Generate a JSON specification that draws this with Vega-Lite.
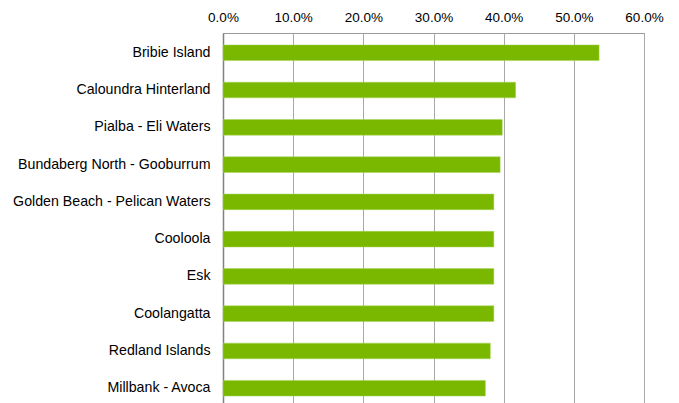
{
  "$schema": "https://vega.github.io/schema/vega-lite/v6.json",
  "autosize": {"type": "none"},
  "padding": {"left": 223, "top": 33, "right": 35, "bottom": 0},
  "width": 421,
  "height": 375,
  "background": "white",
  "config": {
    "view": {"stroke": "#9a9a9a", "strokeWidth": 1},
    "axis": {"labelFont": "Liberation Sans", "labelFontSize": 13.5, "labelColor": "#000000", "labelLimit": 400}
  },
  "data": {
    "values": [
      {"area": "Bribie Island", "value": 0.536},
      {"area": "Caloundra Hinterland", "value": 0.417},
      {"area": "Pialba - Eli Waters", "value": 0.398},
      {"area": "Bundaberg North - Gooburrum", "value": 0.395},
      {"area": "Golden Beach - Pelican Waters", "value": 0.386},
      {"area": "Cooloola", "value": 0.386},
      {"area": "Esk", "value": 0.386},
      {"area": "Coolangatta", "value": 0.386},
      {"area": "Redland Islands", "value": 0.381},
      {"area": "Millbank - Avoca", "value": 0.374}
    ]
  },
  "mark": {"type": "bar", "color": "#7ab800", "stroke": "#a6d45a", "strokeWidth": 0.5},
  "encoding": {
    "y": {
      "field": "area", "type": "nominal", "sort": null,
      "scale": {"paddingInner": 0.58, "paddingOuter": 0.32},
      "axis": {"title": null, "ticks": false, "domainColor": "#808080", "domainWidth": 1.5, "labelPadding": 13, "labelFontSize": 14.2, "grid": false}
    },
    "x": {
      "field": "value", "type": "quantitative",
      "scale": {"domain": [0, 0.6], "nice": false},
      "axis": {"orient": "top", "title": null, "format": ".1%", "values": [0, 0.1, 0.2, 0.3, 0.4, 0.5, 0.6], "domain": false, "ticks": false, "labelPadding": 9, "grid": true, "gridColor": "#a8a8a8", "gridWidth": 1, "labelFlush": false}
    }
  }
}
